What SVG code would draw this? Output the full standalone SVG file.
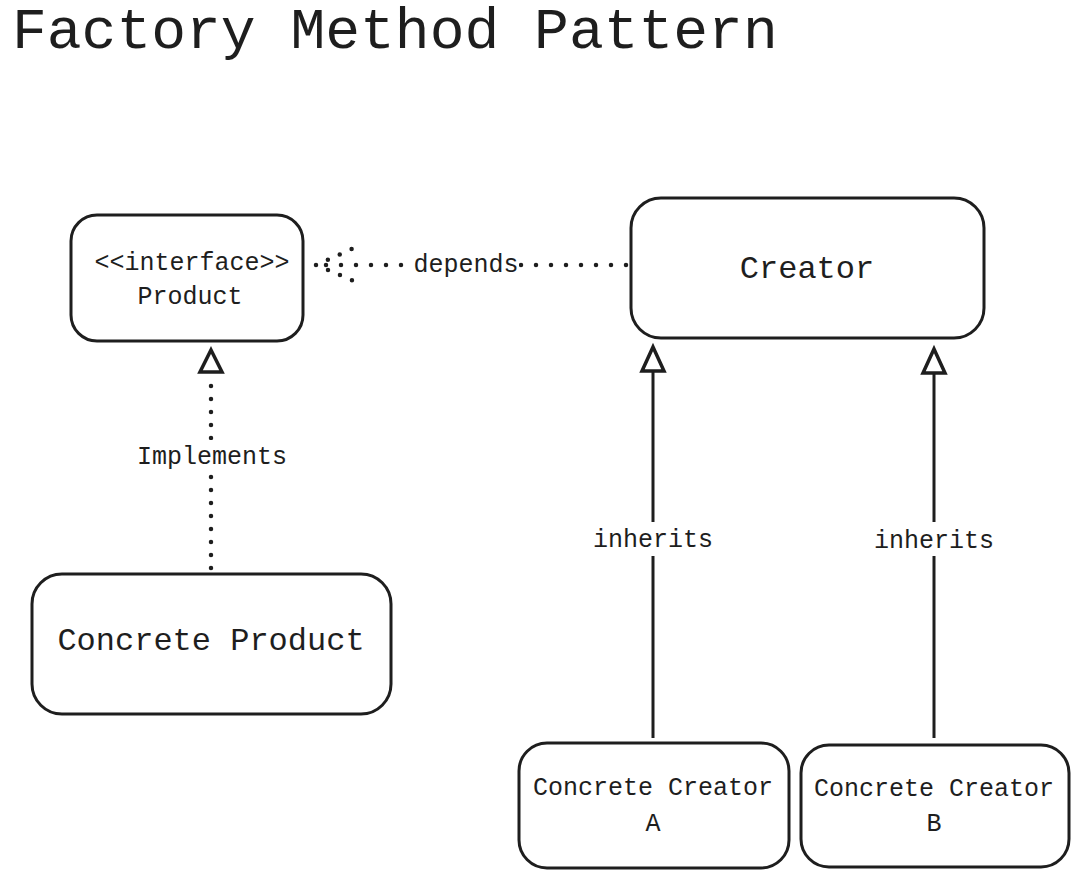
<svg xmlns="http://www.w3.org/2000/svg" width="1077" height="876" viewBox="0 0 1077 876">
<style>
  .box { fill: #ffffff; stroke: #1e1e1e; stroke-width: 3; }
  .t { font-family: "Liberation Mono", "DejaVu Sans Mono", monospace; fill: #1e1e1e; text-anchor: middle; }
  .s { font-size: 25px; }
  .l { font-size: 32px; }
  .dot { fill: none; stroke: #1e1e1e; stroke-width: 4.5; stroke-linecap: round; stroke-dasharray: 0 15; }
  .dots { fill: none; stroke: #1e1e1e; stroke-width: 4.5; stroke-linecap: round; stroke-dasharray: 0 13; }
  .solid { fill: none; stroke: #1e1e1e; stroke-width: 3; }
  .head { fill: #ffffff; stroke: #1e1e1e; stroke-width: 3.5; stroke-linejoin: miter; }
  .lbl { fill: #ffffff; }
</style>
<rect width="1077" height="876" fill="#ffffff"/>
<text x="12" y="48" font-family="Liberation Mono, DejaVu Sans Mono, monospace" font-size="58" fill="#1e1e1e">Factory Method Pattern</text>

<g id="connectors">
  <!-- depends -->
  <path class="dot" d="M626 265 H316"/>
  <path class="dots" d="M316 265 L354 248 M316 265 L354 281"/>
  <rect class="lbl" x="413" y="250" width="106" height="30"/>
  <text class="t s" x="466" y="272">depends</text>
  <!-- implements -->
  <path class="dots" d="M211 568 V383"/>
  <path class="head" d="M211 350 L222 372 L200 372 Z"/>
  <rect class="lbl" x="132" y="440" width="160" height="32"/>
  <text class="t s" x="212" y="464">Implements</text>
  <!-- inherits A -->
  <path class="solid" d="M653 738 V372"/>
  <path class="head" d="M653 347 L664 371 L642 371 Z"/>
  <rect class="lbl" x="590" y="522" width="128" height="34"/>
  <text class="t s" x="653" y="547">inherits</text>
  <!-- inherits B -->
  <path class="solid" d="M934 738 V373"/>
  <path class="head" d="M934 349 L945 373 L923 373 Z"/>
  <rect class="lbl" x="871" y="522" width="128" height="34"/>
  <text class="t s" x="934" y="548">inherits</text>
</g>

<g id="product">
  <rect class="box" x="71" y="215" width="232" height="126" rx="26"/>
  <text class="t s" x="192" y="270">&lt;&lt;interface&gt;&gt;</text>
  <text class="t s" x="190" y="304">Product</text>
</g>

<g id="creator">
  <rect class="box" x="631" y="198" width="353" height="140" rx="30"/>
  <text class="t l" x="807" y="278">Creator</text>
</g>

<g id="concrete-product">
  <rect class="box" x="32" y="574" width="359" height="140" rx="30"/>
  <text class="t l" x="211" y="650">Concrete Product</text>
</g>

<g id="concrete-creator-a">
  <rect class="box" x="519" y="743" width="270" height="125" rx="28"/>
  <text class="t s" x="653" y="795">Concrete Creator</text>
  <text class="t s" x="653" y="831">A</text>
</g>

<g id="concrete-creator-b">
  <rect class="box" x="801" y="745" width="268" height="122" rx="28"/>
  <text class="t s" x="934" y="796">Concrete Creator</text>
  <text class="t s" x="934" y="831">B</text>
</g>
</svg>
